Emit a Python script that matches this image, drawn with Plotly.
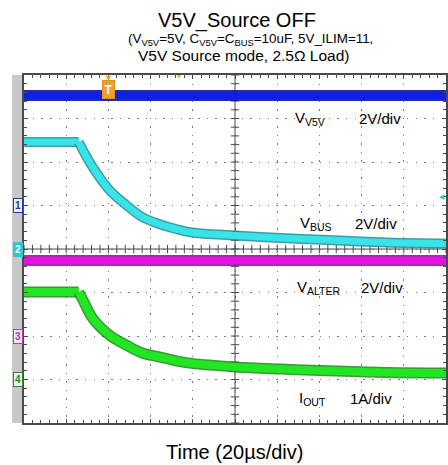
import numpy as np
import plotly.graph_objects as go

# ---------------- data (read from the scope capture) ----------------
# time in microseconds, 20 us/div, 10 divisions
time_flat = [0, 200]
v5v_volts = [5.06, 5.06]          # CH1, 2V/div
valter_volts = [3.47, 3.47]       # CH3, 2V/div

time_decay = [0, 25.9, 27.9, 32.5, 40.5, 48.5, 56, 64, 72, 79.5, 100, 122, 144, 172, 200]
vbus_volts = [4.92, 4.92, 4.55, 3.77, 2.71, 2.02, 1.47, 1.15, 0.92, 0.76, 0.62, 0.51, 0.41, 0.30, 0.25]  # CH2, 2V/div
iout_amps = [2.01, 2.01, 1.83, 1.41, 1.02, 0.79, 0.61, 0.52, 0.43, 0.37, 0.29, 0.24, 0.20, 0.16, 0.15]   # CH4, 1A/div

channel_names = ["V<sub>V5V</sub>", "V<sub>BUS</sub>", "V<sub>ALTER</sub>", "I<sub>OUT</sub>"]
channel_scales = ["2V/div", "2V/div", "2V/div", "1A/div"]

# ---------------- geometry helpers ----------------
W, H = 448, 465
L, R, T, B = 24, 0, 75, 42
PW, PH = W - L - R, H - T - B


def px(xp):
    return (xp - L) / PW


def py(yp):
    return (H - B - yp) / PH


FONT = "Arial, Liberation Sans, sans-serif"
GRID = "#7a7a7a"
AXC = "#4a4a4a"

fig = go.Figure()

# center crosshair with minor ticks
fig.add_trace(go.Scatter(x=[0, 200], y=[0, 0], mode="lines",
                         line=dict(color=AXC, width=1), hoverinfo="skip", showlegend=False))
fig.add_trace(go.Scatter(x=[100, 100], y=[-4, 4], mode="lines",
                         line=dict(color=AXC, width=1), hoverinfo="skip", showlegend=False))
tx = np.arange(0, 200.01, 4)
fig.add_trace(go.Scatter(x=tx, y=np.zeros_like(tx), mode="markers",
                         marker=dict(symbol="line-ns", size=6, line=dict(color=AXC, width=1)),
                         hoverinfo="skip", showlegend=False))
ty = np.arange(-4, 4.001, 0.2)
fig.add_trace(go.Scatter(x=np.full_like(ty, 100), y=ty, mode="markers",
                         marker=dict(symbol="line-ew", size=6, line=dict(color=AXC, width=1)),
                         hoverinfo="skip", showlegend=False))


def band(x, y, yaxis, core, edge, wcore=8, wedge=11, shape="linear"):
    fig.add_trace(go.Scatter(x=x, y=y, yaxis=yaxis, mode="lines",
                             line=dict(color=edge, width=wedge, shape=shape, smoothing=1.0), opacity=0.85,
                             hoverinfo="skip", showlegend=False))
    fig.add_trace(go.Scatter(x=x, y=y, yaxis=yaxis, mode="lines",
                             line=dict(color=core, width=wcore, shape=shape, smoothing=1.0),
                             hoverinfo="skip", showlegend=False))


band(time_flat, v5v_volts, "y2", "#1020e0", "#000a90", 8, 11)
band(time_flat, valter_volts, "y4", "#e014e0", "#8c0a8c", 8, 11)
# VBUS: flat part then smooth decay
band(time_decay[:2], vbus_volts[:2], "y3", "#38e4e8", "#1b8f96", 7, 10)
band(time_decay[1:], vbus_volts[1:], "y3", "#38e4e8", "#1b8f96", 7, 10, "spline")
# IOUT: flat part then smooth decay
band(time_decay[:2], iout_amps[:2], "y5", "#22e622", "#168a16", 8, 11)
band(time_decay[1:], iout_amps[1:], "y5", "#22e622", "#168a16", 8, 11, "spline")

# ---------------- layout ----------------
fig.update_layout(
    width=W, height=H,
    margin=dict(l=L, r=R, t=T, b=B, pad=0),
    paper_bgcolor="white", plot_bgcolor="white",
    showlegend=False,
    xaxis=dict(range=[0, 200], dtick=20, tick0=0, showticklabels=False,
               showgrid=True, gridcolor=GRID, gridwidth=1.2, griddash="1.5px,7px",
               showline=True, linecolor=AXC, linewidth=1.5, mirror="ticks",
               ticks="inside", ticklen=4, tickcolor=AXC,
               minor=dict(dtick=4, ticks="inside", ticklen=3, tickcolor=AXC, showgrid=False),
               zeroline=False, fixedrange=True),
    yaxis=dict(range=[-4, 4], dtick=1, tick0=0, showticklabels=False,
               showgrid=True, gridcolor=GRID, gridwidth=1.2, griddash="1.5px,7.2px",
               showline=True, linecolor=AXC, linewidth=1.5, mirror="ticks",
               ticks="inside", ticklen=4, tickcolor=AXC,
               minor=dict(dtick=0.2, ticks="inside", ticklen=3, tickcolor=AXC, showgrid=False),
               zeroline=False, fixedrange=True),
    yaxis2=dict(range=[-10, 6], overlaying="y", visible=False, fixedrange=True),
    yaxis3=dict(range=[-8, 8], overlaying="y", visible=False, fixedrange=True),
    yaxis4=dict(range=[-4, 12], overlaying="y", visible=False, fixedrange=True),
    yaxis5=dict(range=[-1, 7], overlaying="y", visible=False, fixedrange=True),
)

# gray channel strip on the left
fig.add_shape(type="rect", xref="paper", yref="paper", x0=px(12), x1=px(23), y0=0, y1=1,
              fillcolor="#c8c8c8", line=dict(width=0), layer="below")

ann = []
# titles
ann.append(dict(text="V5V_Source OFF", x=px(238), y=py(20.5), font=dict(size=20, color="black")))
ann.append(dict(text="(V<sub>V5V</sub>=5V, C<sub>V5V</sub>=C<sub>BUS</sub>=10uF, 5V_ILIM=11,",
                x=px(252), y=py(40), font=dict(size=13.4, color="black")))
ann.append(dict(text="V5V Source mode, 2.5\u03a9 Load)", x=px(245), y=py(55.5),
                font=dict(size=15.5, color="black")))
ann.append(dict(text="Time (20\u00b5s/div)", x=px(235), y=py(452), font=dict(size=20, color="black")))
for a in ann:
    a.update(xref="paper", yref="paper", showarrow=False, xanchor="center", yanchor="middle")

# channel labels
label_pos = [(294, 359, 118), (299, 355, 223), (296, 361, 287), (298, 350, 398)]
for name, scale, (xn, xs, yl) in zip(channel_names, channel_scales, label_pos):
    ann.append(dict(text=name, x=px(xn), y=py(yl), xref="paper", yref="paper", showarrow=False,
                    xanchor="left", yanchor="middle", font=dict(size=15, color="black")))
    ann.append(dict(text=scale, x=px(xs), y=py(yl), xref="paper", yref="paper", showarrow=False,
                    xanchor="left", yanchor="middle", font=dict(size=15, color="black")))

# channel ground markers
markers = [("1", "y2", "#2a3a9a", "#eceef8", "#2a3a9a"),
           ("2", "y3", "#28c8d8", "#28c8d8", "white"),
           ("3", "y4", "#b040b0", "#f6e6f6", "#b040b0"),
           ("4", "y5", "#2a8a2a", "#e6f6e6", "#2a8a2a")]
for txt, yr, bc, bg, fc in markers:
    ann.append(dict(text="<b>" + txt + "</b>", x=px(17.5), y=0, xref="paper", yref=yr, showarrow=False,
                    xanchor="center", yanchor="middle", font=dict(size=10, color=fc, family=FONT),
                    bgcolor=bg, bordercolor=bc, borderwidth=1, borderpad=1))

# trigger markers
ann.append(dict(text="<b>T</b>", x=40, y=py(89), xref="x", yref="paper", showarrow=False,
                xanchor="center", yanchor="middle", font=dict(size=12, color="white"),
                bgcolor="#f0a030", bordercolor="#e09020", borderwidth=1, borderpad=1.5))
ann.append(dict(text="\u25bc", x=40, y=py(78), xref="x", yref="paper", showarrow=False,
                xanchor="center", yanchor="middle", font=dict(size=9, color="#f0a030")))
ann.append(dict(text="\u25be", x=73.5, y=py(76), xref="x", yref="paper", showarrow=False,
                xanchor="center", yanchor="middle", font=dict(size=8, color="#f0b040")))
ann.append(dict(text="\u25c0", x=px(444), y=py(196), xref="paper", yref="paper", showarrow=False,
                xanchor="center", yanchor="middle", font=dict(size=7, color="#28c8d8")))

fig.update_layout(annotations=ann, font=dict(family=FONT))

fig.write_html("out.html")
